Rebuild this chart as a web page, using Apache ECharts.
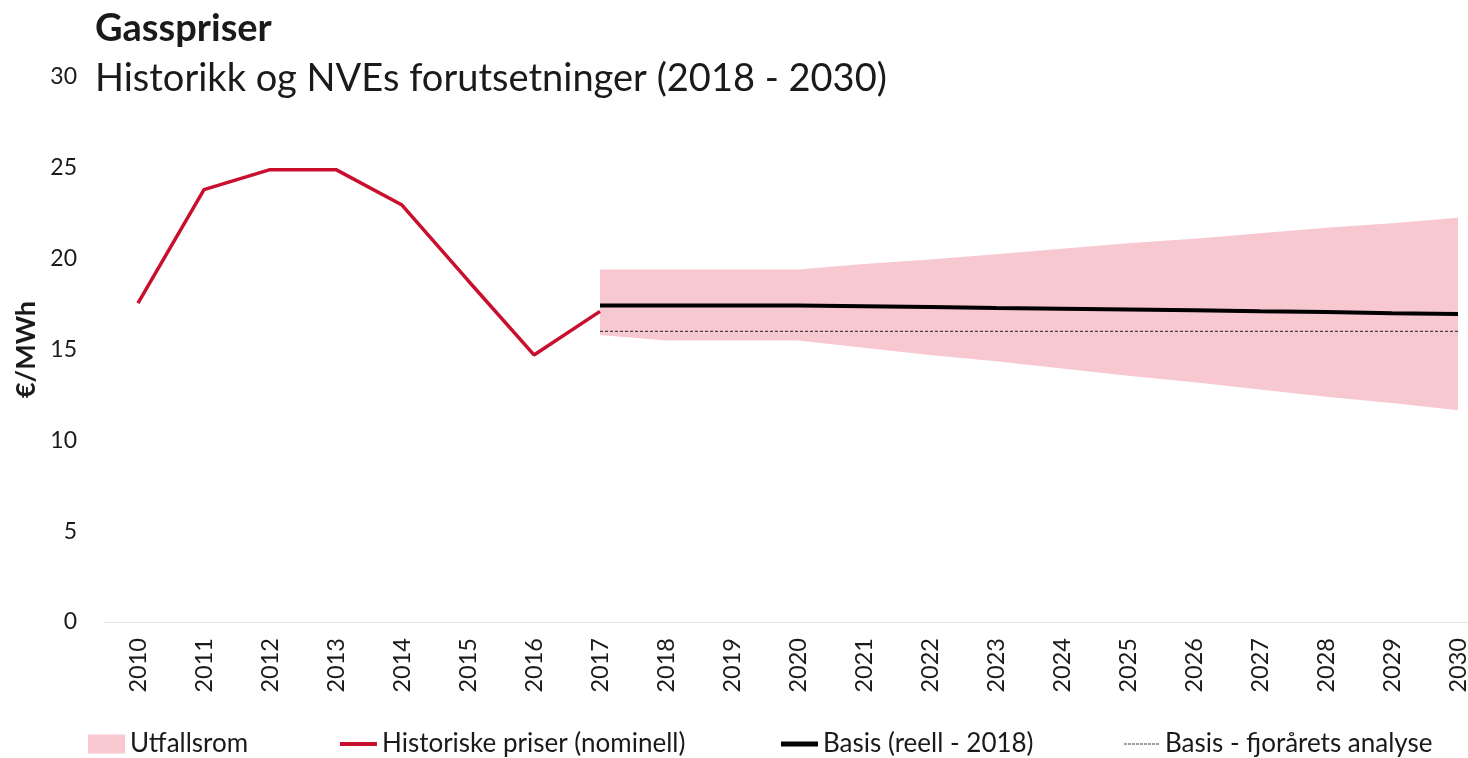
<!DOCTYPE html>
<html>
<head>
<meta charset="utf-8">
<script src="https://cdn.jsdelivr.net/npm/echarts@6/dist/echarts.min.js"></script>
<style>
  html, body { margin: 0; padding: 0; background: #fff; }
  #chart { width: 1468px; height: 758px; }
</style>
</head>
<body>
<div id="chart"></div>
<script>
// data
var years = ["2010", "2011", "2012", "2013", "2014", "2015", "2016", "2017", "2018", "2019",
  "2020", "2021", "2022", "2023", "2024", "2025", "2026", "2027", "2028", "2029", "2030"];

var historical = [17.55, 23.8, 24.9, 24.9, 22.95, 18.8, 14.7, 17.1,
  null, null, null, null, null, null, null, null, null, null, null, null, null];

var basis = [null, null, null, null, null, null, null,
  17.42, 17.42, 17.42, 17.42, 17.38, 17.34, 17.28, 17.24, 17.2, 17.16, 17.1, 17.06, 17.0, 16.95];

var basisLastYear = [null, null, null, null, null, null, null,
  16.0, 16.0, 16.0, 16.0, 16.0, 16.0, 16.0, 16.0, 16.0, 16.0, 16.0, 16.0, 16.0, 16.0];

var rangeLow = [null, null, null, null, null, null, null,
  15.8, 15.5, 15.5, 15.5, 15.1, 14.7, 14.35, 13.95, 13.55, 13.2, 12.8, 12.4, 12.05, 11.65];

var rangeHigh = [null, null, null, null, null, null, null,
  19.4, 19.4, 19.4, 19.4, 19.7, 19.95, 20.25, 20.55, 20.85, 21.1, 21.4, 21.7, 21.95, 22.25];

var rangeSpan = rangeHigh.map(function (v, i) {
  return v == null ? null : +(v - rangeLow[i]).toFixed(2);
});

var FONT = "Lato";
var TXT = "#1a1a1a";

// short dotted stroke for the legend of last year's basis
var dotsIcon = "path://" + Array.from({ length: 9 }, function (v, i) {
  return "M" + (i * 4) + ",0h3v1h-3z";
}).join(" ");

var myChart = echarts.init(document.getElementById("chart"));

function legendAt(name, icon, left, h) {
  return {
    data: [{ name: name, icon: icon }],
    left: left,
    top: 731,
    padding: 0,
    itemWidth: 37,
    itemHeight: h,
    textStyle: { fontFamily: FONT, fontSize: 26, lineHeight: 26, color: TXT }
  };
}

var option = {
  animation: false,
  textStyle: { fontFamily: FONT },
  title: [
    {
      text: "Gasspriser",
      left: 90, top: 5,
      textStyle: { fontFamily: FONT, fontSize: 38, fontWeight: "bold", color: TXT }
    },
    {
      text: "Historikk og NVEs forutsetninger (2018 - 2030)",
      left: 90, top: 55,
      textStyle: { fontFamily: FONT, fontSize: 38, fontWeight: "normal", color: TXT }
    }
  ],
  legend: [
    legendAt("Utfallsrom", "rect", 88, 19),
    legendAt("Historiske priser (nominell)", "rect", 340, 4),
    legendAt("Basis (reell - 2018)", "rect", 781, 5),
    legendAt("Basis - fjorårets analyse", dotsIcon, 1124, 1)
  ],
  // the plot runs past the right edge of the picture, so it is not fitted inside
  grid: { left: 105, top: 77, width: 1386, height: 545, outerBoundsMode: "none", containLabel: false },
  xAxis: {
    type: "category",
    data: years,
    boundaryGap: true,
    axisLine: { lineStyle: { color: "#e3e3e3", width: 1 } },
    axisTick: { show: false },
    axisLabel: {
      rotate: 90, interval: 0, margin: 16,
      fontFamily: FONT, fontSize: 23.5, color: TXT
    }
  },
  yAxis: {
    type: "value",
    min: 0, max: 30, interval: 5,
    name: "€/MWh",
    nameLocation: "middle",
    nameRotate: 90,
    nameGap: 64,
    nameTextStyle: { fontFamily: FONT, fontSize: 27, fontWeight: "bold", color: TXT },
    axisLine: { show: false },
    axisTick: { show: false },
    splitLine: { show: false },
    axisLabel: { margin: 28, fontFamily: FONT, fontSize: 23, color: TXT }
  },
  series: [
    {
      name: "rangeBase",
      type: "line",
      stack: "band",
      data: rangeLow,
      symbol: "none",
      lineStyle: { opacity: 0 },
      silent: true
    },
    {
      name: "Utfallsrom",
      type: "line",
      stack: "band",
      data: rangeSpan,
      symbol: "none",
      lineStyle: { opacity: 0 },
      itemStyle: { color: "#f7c8d0" },
      areaStyle: { color: "#f7c8d0", opacity: 1 }
    },
    {
      name: "Historiske priser (nominell)",
      type: "line",
      data: historical,
      symbol: "none",
      itemStyle: { color: "#c8102e" },
      lineStyle: { color: "#c8102e", width: 3.5 }
    },
    {
      name: "Basis (reell - 2018)",
      type: "line",
      data: basis,
      symbol: "none",
      itemStyle: { color: "#000" },
      lineStyle: { color: "#000", width: 4 }
    },
    {
      name: "Basis - fjorårets analyse",
      type: "line",
      data: basisLastYear,
      symbol: "none",
      itemStyle: { color: "#444" },
      lineStyle: { color: "#444", width: 1.3, type: [3, 2] }
    }
  ]
};

myChart.setOption(option);
</script>
</body>
</html>
